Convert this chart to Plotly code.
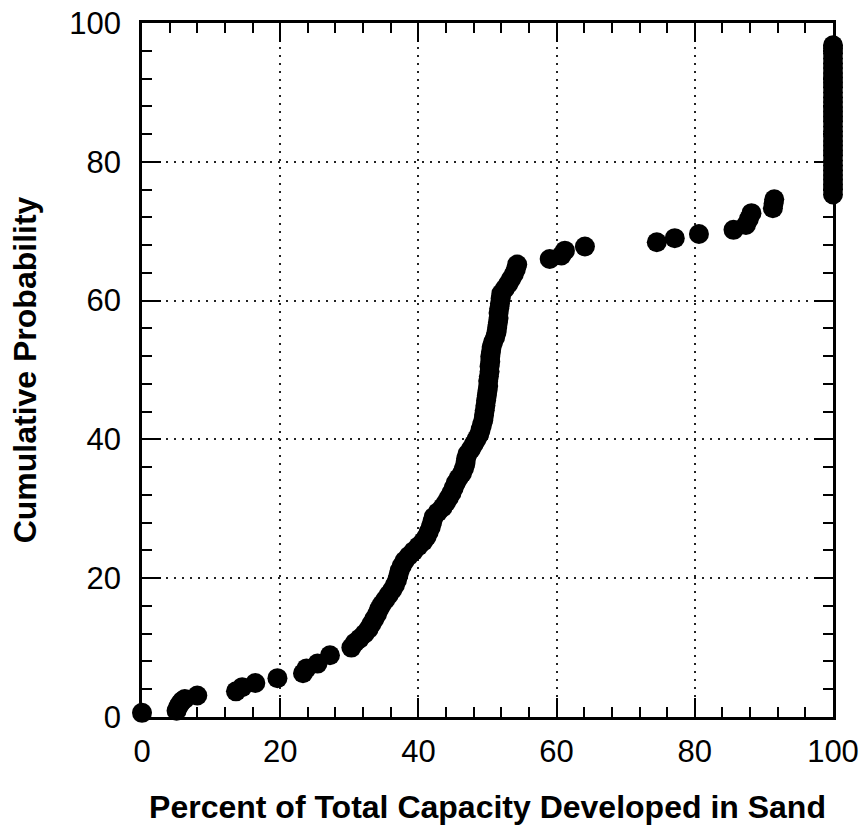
import plotly.graph_objects as go

# Percent of total capacity developed in sand (x) and cumulative probability (y)
low_x = [0.0, 5.0, 5.2, 5.5, 5.8, 6.2, 8.0, 13.6, 14.5, 16.4, 19.6, 23.3, 23.8, 25.4, 27.2]
low_y = [0.6, 0.9, 1.4, 1.9, 2.3, 2.6, 3.1, 3.7, 4.3, 4.9, 5.6, 6.3, 7.0, 7.7, 8.9]

mid_x = [30.3, 30.8, 31.5, 32.2, 32.8, 33.2, 33.6, 34.0, 34.3, 34.7, 35.2, 35.7, 36.2, 36.6,
         36.9, 37.1, 37.3, 37.6, 38.0, 38.6, 39.3, 40.0, 40.7, 41.2, 41.5, 41.8, 42.0, 42.2,
         42.8, 43.5, 44.0, 44.4, 44.8, 45.1, 45.4, 45.8, 46.3, 46.6, 46.8, 46.9, 47.1, 47.6,
         48.0, 48.4, 48.8, 49.0, 49.2, 49.4, 49.5, 49.6, 49.7, 49.8, 49.9, 50.0, 50.1, 50.1,
         50.2, 50.3, 50.3, 50.4, 50.4, 50.5, 50.6, 50.8, 51.1, 51.3, 51.4, 51.5, 51.6, 51.6,
         51.7, 51.8, 51.9, 52.0, 52.5, 53.0, 53.4, 53.8, 54.1, 54.3]
mid_y = [10.0, 10.7, 11.3, 12.0, 12.7, 13.4, 14.1, 14.8, 15.5, 16.2, 16.9, 17.6, 18.3, 19.0,
         19.7, 20.4, 21.1, 21.8, 22.5, 23.2, 23.9, 24.6, 25.3, 26.0, 26.7, 27.4, 28.1, 28.8,
         29.5, 30.2, 30.9, 31.6, 32.3, 33.0, 33.7, 34.4, 35.1, 35.8, 36.5, 37.2, 37.9, 38.6,
         39.3, 40.0, 40.7, 41.4, 42.1, 42.8, 43.5, 44.2, 44.9, 45.6, 46.3, 47.0, 47.7, 48.4,
         49.1, 49.8, 50.5, 51.2, 51.9, 52.6, 53.3, 54.0, 54.7, 55.4, 56.1, 56.8, 57.5, 58.2,
         58.9, 59.6, 60.3, 61.0, 61.7, 62.4, 63.1, 63.8, 64.5, 65.2]

high_x = [59.0, 60.7, 61.2, 64.1, 74.5, 77.1, 80.6, 85.6, 87.4, 87.8, 88.2, 91.3, 91.4, 91.5]
high_y = [66.0, 66.5, 67.2, 67.8, 68.4, 69.0, 69.6, 70.2, 70.9, 71.7, 72.6, 73.3, 74.0, 74.6]

full_y = [75.3, 76.0, 76.7, 77.4, 78.1, 78.8, 79.5, 80.2, 80.9, 81.6, 82.3, 83.0, 83.7, 84.4,
          85.1, 85.8, 86.5, 87.2, 87.9, 88.6, 89.3, 90.0, 90.7, 91.4, 92.1, 92.8, 93.5, 94.2,
          94.9, 95.6, 96.3, 96.8]
full_x = [100.0] * len(full_y)

x_vals = low_x + mid_x + high_x + full_x
y_vals = low_y + mid_y + high_y + full_y

tick_vals = [0, 20, 40, 60, 80, 100]
tick_text = ["0", "20", "40", "60", "80", "100"]

fig = go.Figure()
fig.add_trace(go.Scatter(
    x=x_vals, y=y_vals, mode="markers",
    marker=dict(color="black", size=20, line=dict(width=0)),
    cliponaxis=False, showlegend=False, hoverinfo="x+y",
))

font_reg = "Liberation Sans, Arial, sans-serif"

common_axis = dict(
    range=[0, 100], automargin=False,
    tickmode="array", tickvals=tick_vals, ticktext=tick_text,
    ticks="inside", ticklen=19, tickwidth=2, tickcolor="black",
    showline=True, linecolor="black", linewidth=2.5, mirror="ticks",
    showgrid=True, gridcolor="#222222", gridwidth=1.5, griddash="2px,6px",
    zeroline=False,
    tickfont=dict(family=font_reg, size=31, color="black"),
    minor=dict(dtick=4, tick0=0, ticks="inside", ticklen=10, tickwidth=2,
               tickcolor="black", showgrid=False),
)

fig.update_layout(
    template="none",
    width=867, height=837,
    margin=dict(l=142, r=34, t=23, b=120, autoexpand=False),
    paper_bgcolor="white", plot_bgcolor="white",
    xaxis=dict(**common_axis,
               ticklabelstandoff=5,
               title=dict(text="<b>Percent of Total Capacity Developed in Sand</b>",
                          font=dict(family=font_reg, size=32, color="black"),
                          standoff=28)),
    yaxis=dict(**common_axis,
               ticklabelstandoff=12,
               title=dict(text="<b>Cumulative Probability</b>",
                          font=dict(family=font_reg, size=32, color="black"),
                          standoff=24)),
)

fig.write_html("out.html")
